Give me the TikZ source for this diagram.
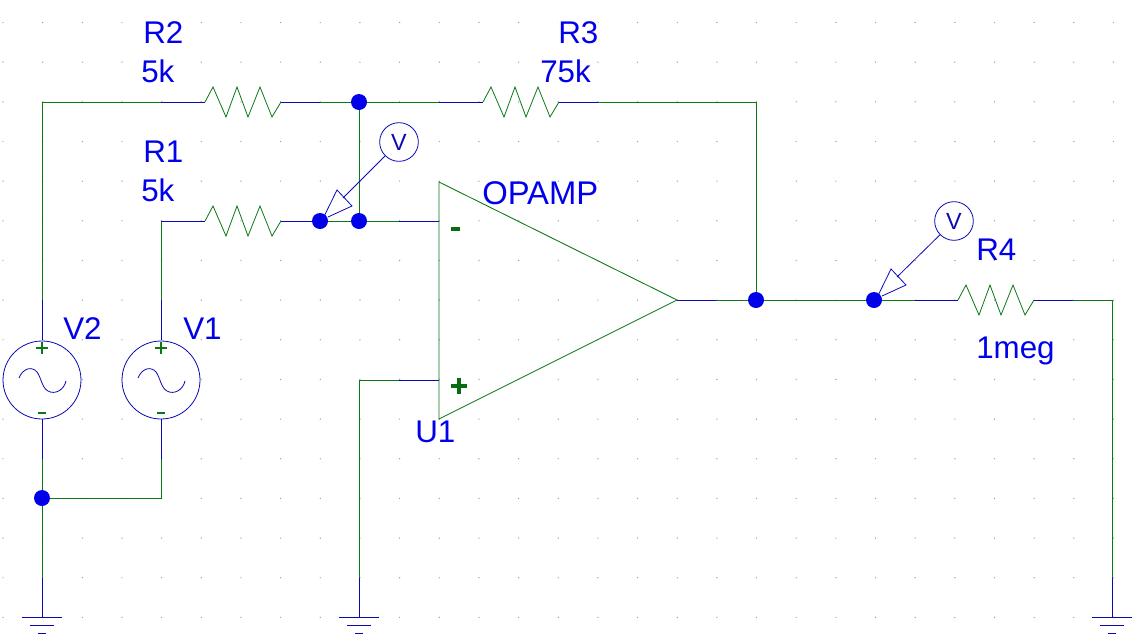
\documentclass[tikz,border=0pt]{standalone}
\usepackage{fontspec}
\setmainfont{Liberation Sans}
\definecolor{wgreen}{RGB}{10,120,20}
\definecolor{wblue}{RGB}{10,10,180}
\definecolor{tblue}{RGB}{0,0,235}
\tikzset{
  x=0.75pt,y=-0.75pt,
  greenwire/.style={draw=wgreen,line width=0.75pt,line join=miter},
  bluewire/.style={draw=wblue,line width=0.75pt},
  thinblue/.style={draw=wblue,line width=0.6pt},
  zig/.style={draw=wgreen,line width=0.6pt,line join=miter},
  junction/.style={circle,fill=tblue,draw=none,minimum size=12pt,inner sep=0pt},
  lbl/.style={anchor=base west,inner sep=0pt,text=tblue,font=\fontsize{23.5pt}{26pt}\selectfont},
  srcbody/.style={circle,draw=wblue,fill=white,line width=0.6pt,minimum size=58.5pt,inner sep=0pt},
  probebody/.style={circle,draw=wblue,fill=white,line width=0.6pt,minimum size=29pt,inner sep=0pt,text=wblue,font=\fontsize{17.5pt}{18pt}\selectfont},
  pinmark/.style={draw=wgreen!90!black,line width=2.6pt},
  srcmark/.style={draw=wgreen,line width=2pt},
  ground/.pic={
    \draw[bluewire] (-20,0) -- (20,0);
    \draw[bluewire] (-12,8) -- (12,8);
    \draw[bluewire] (-4,16) -- (4,16);
  },
  resistor/.pic={
    \draw[zig] (0,0) -- (8,-15) -- (21,15) -- (32,-15) -- (43,15) -- (55,-15) -- (67,15) -- (76,0);
  },
  sine/.pic={
    \draw[thinblue] (-23,-2) .. controls (-19,-12) and (-10,-14) .. (-5,-8)
      .. controls (-1,-3) and (0,8) .. (6,11)
      .. controls (13,15) and (22,10) .. (24,1);
  },
  probetip/.pic={
    \draw[thinblue,line join=miter] (4.5,-5.5) -- (17,-31) -- (32,-15) -- (8,-4);
  }
}
\begin{document}
\begin{tikzpicture}
\useasboundingbox (0,0) rectangle (1139,643);
\fill[white] (0,0) rectangle (1139,643);
% grid
\foreach \i in {0,...,28}{\foreach \j in {0,...,15}{
  \fill[black!38] ({3+39.66*\i},{22.5+39.66*\j}) circle[radius=0.7];
}}
% labels (white patch hides the grid behind them)
\node[lbl,fill=white] (tR2) at (143,43) {R2};
\node[lbl,fill=white] (vR2) at (141,82) {5k};
\node[lbl,fill=white] (tR1) at (143,162) {R1};
\node[lbl,fill=white] (vR1) at (141,201) {5k};
\node[lbl,fill=white] (tR3) at (558,43) {R3};
\node[lbl,fill=white] (vR3) at (540,82) {75k};
\node[lbl,fill=white] (tR4) at (976,260) {R4};
\node[lbl,fill=white] (vR4) at (976,358) {1meg};
\node[lbl,fill=white] (tV2) at (63,339) {V2};
\node[lbl,fill=white] (tV1) at (183,339) {V1};
\node[lbl,fill=white] (tU1) at (415,442) {U1};
% coordinates
\coordinate (cnA) at (42,102);
\coordinate (cnB) at (161,221);
\coordinate (j1) at (359,102);
\coordinate (j2) at (320,221);
\coordinate (j3) at (359,221);
\coordinate (j4) at (756,300);
\coordinate (j5) at (874,300);
\coordinate (j6) at (42,498);
\coordinate (r2a) at (205,102);
\coordinate (r2b) at (281,102);
\coordinate (r1a) at (205,221);
\coordinate (r1b) at (281,221);
\coordinate (r3a) at (483,102);
\coordinate (r3b) at (559,102);
\coordinate (r4a) at (958,300);
\coordinate (r4b) at (1034,300);
\coordinate (corR3) at (756,102);
\coordinate (corR4) at (1112,300);
\coordinate (corV1) at (161,498);
\coordinate (corP) at (359,380);
\coordinate (ininv) at (439,221);
\coordinate (inpos) at (439,380);
\coordinate (opout) at (677,300);
\coordinate (optop) at (439,182);
\coordinate (opbot) at (439,419);
\coordinate (g1) at (42,617);
\coordinate (g2) at (359,617);
\coordinate (g3) at (1112,617);
% wires: green runs
\draw[greenwire] (42,300) -- (cnA) -- (161,102);
\draw[greenwire] (320,102) -- (439,102);
\draw[greenwire] (598,102) -- (corR3) -- (j4);
\draw[greenwire] (j1) -- (j3);
\draw[greenwire] (161,300) -- (cnB);
\draw[greenwire] (j2) -- (399,221);
\draw[greenwire] (42,459) -- (42,578);
\draw[greenwire] (j6) -- (corV1) -- (161,459);
\draw[greenwire] (399,380) -- (corP) -- (359,578);
\draw[greenwire] (716,300) -- (915,300);
\draw[greenwire] (1073,300) -- (corR4) -- (1112,578);
% wires: blue pin stubs
\draw[bluewire] (161,102) -- (r2a);
\draw[bluewire] (r2b) -- (320,102);
\draw[bluewire] (439,102) -- (r3a);
\draw[bluewire] (r3b) -- (598,102);
\draw[bluewire] (cnB) -- (r1a);
\draw[bluewire] (r1b) -- (j2);
\draw[bluewire] (399,221) -- (ininv);
\draw[bluewire] (399,380) -- (inpos);
\draw[bluewire] (opout) -- (716,300);
\draw[bluewire] (915,300) -- (r4a);
\draw[bluewire] (r4b) -- (1073,300);
\draw[bluewire] (42,300) -- (42,340);
\draw[bluewire] (161,300) -- (161,340);
\draw[bluewire] (42,419) -- (42,459);
\draw[bluewire] (161,419) -- (161,459);
\draw[bluewire] (42,578) -- (g1);
\draw[bluewire] (359,578) -- (g2);
\draw[bluewire] (1112,578) -- (g3);
% resistors
\pic at (r2a) {resistor};
\pic at (r1a) {resistor};
\pic at (r3a) {resistor};
\pic at (r4a) {resistor};
% grounds
\pic at (g1) {ground};
\pic at (g2) {ground};
\pic at (g3) {ground};
% op amp
\draw[greenwire,line width=0.65pt,line join=miter] (optop) -- (opout) -- (opbot) -- cycle;
\draw[pinmark] (451,229) -- (460,229);
\draw[pinmark] (451,386) -- (467,386) (459,378) -- (459,394);
\node[lbl,font=\fontsize{24.6pt}{26pt}\selectfont] (tOP) at (482,204) {OPAMP};
% sources
\node[srcbody] (V2) at (42,380) {};
\node[srcbody] (V1) at (161,380) {};
\pic at (V2) {sine};
\pic at (V1) {sine};
\draw[srcmark] (36,348) -- (48,348) (42,342) -- (42,354);
\draw[srcmark] (155,348) -- (167,348) (161,342) -- (161,354);
\draw[srcmark] (38,413) -- (46,413);
\draw[srcmark] (157,413) -- (165,413);
% probes
\node[probebody] (pr1) at (399,142) {V};
\node[probebody] (pr2) at (954,221) {V};
\pic at (j2) {probetip};
\pic at (j5) {probetip};
\draw[thinblue] (pr1) -- (343,198);
\draw[thinblue] (pr2) -- (897,277);
% junctions
\foreach \p in {j1,j2,j3,j4,j5,j6}{\node[junction] at (\p) {};}
\end{tikzpicture}
\end{document}
